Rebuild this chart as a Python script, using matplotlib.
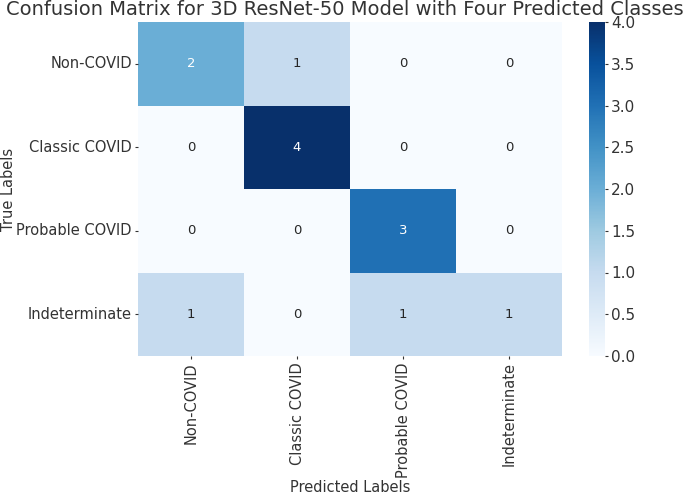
import numpy as np
import matplotlib
matplotlib.use("Agg")
import matplotlib.pyplot as plt
import seaborn as sns

# class names and confusion counts (rows = true, cols = predicted)
classes = ["Non-COVID", "Classic COVID", "Probable COVID", "Indeterminate"]
counts = np.array([
    [2, 1, 0, 0],
    [0, 4, 0, 0],
    [0, 0, 3, 0],
    [1, 0, 1, 1],
])

txt = "#333333"
plt.rcParams["text.color"] = txt
plt.rcParams["axes.labelcolor"] = txt
plt.rcParams["xtick.color"] = txt
plt.rcParams["ytick.color"] = txt

fig = plt.figure(figsize=(6.85, 4.92), dpi=100)
ax = fig.add_axes([138 / 685, 1 - 356 / 492, (562 - 138) / 685, (356 - 22) / 492])
cax = fig.add_axes([589 / 685, 1 - 356 / 492, 16 / 685, (356 - 22) / 492])

sns.heatmap(counts, annot=True, fmt="d", cmap="Blues", vmin=0, vmax=4,
            xticklabels=classes, yticklabels=classes, ax=ax, cbar_ax=cax,
            annot_kws={"fontsize": 9.5})
cax.tick_params(labelsize=11, length=2.5, pad=2)
for s in cax.spines.values():
    s.set_visible(False)

t = ax.set_title("Confusion Matrix for 3D ResNet-50 Model with Four Predicted Classes",
                 fontsize=14.0, pad=5, color=txt)
t.set_x(0.487)
ax.set_xlabel("Predicted Labels", fontsize=10.5)
ax.set_ylabel("True Labels", fontsize=10.5)
ax.xaxis.set_label_coords(0.5, -0.372)
ax.yaxis.set_label_coords(-0.288, 0.5)
ax.tick_params(labelsize=10.5, length=2.5, pad=2)
plt.setp(ax.get_xticklabels(), rotation=90)
plt.setp(ax.get_yticklabels(), rotation=0)

fig.savefig("out.png", dpi=100)
plt.close(fig)
